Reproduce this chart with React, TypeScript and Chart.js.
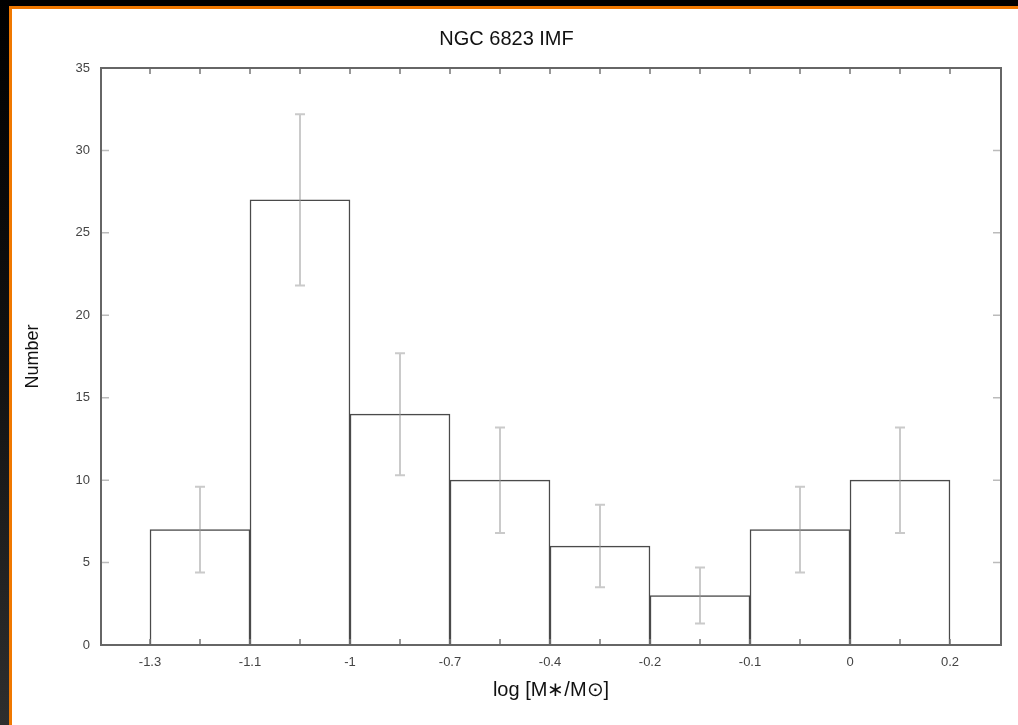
import React, { useEffect, useRef } from 'react';
import { Chart, registerables } from 'chart.js';

Chart.register(...registerables);

const chartTitle = 'NGC 6823 IMF';
const xAxisTitle = 'log [M∗/M⊙]';
const yAxisTitle = 'Number';
const binEdgeLabels = ['-1.3', '-1.1', '-1', '-0.7', '-0.4', '-0.2', '-0.1', '0', '0.2'];
const binCounts = [7, 27, 14, 10, 6, 3, 7, 10];
const binErrors = [2.6, 5.2, 3.7, 3.2, 2.5, 1.7, 2.6, 3.2];
const yMin = 0;
const yMax = 35;
const yStep = 5;

const FONT = "'Liberation Sans', Arial, Helvetica, sans-serif";

const errorBarPlugin = {
  id: 'errorBars',
  afterDatasetsDraw(chart: any) {
    const { ctx, scales } = chart;
    const x = scales.x;
    const y = scales.y;
    ctx.save();
    ctx.strokeStyle = 'rgba(150,150,150,0.5)';
    ctx.lineWidth = 2;
    binCounts.forEach((c, i) => {
      const px = x.getPixelForValue(i + 0.5);
      const top = y.getPixelForValue(c + binErrors[i]);
      const bot = y.getPixelForValue(c - binErrors[i]);
      ctx.beginPath();
      ctx.moveTo(px, top);
      ctx.lineTo(px, bot);
      ctx.moveTo(px - 5, top);
      ctx.lineTo(px + 5, top);
      ctx.moveTo(px - 5, bot);
      ctx.lineTo(px + 5, bot);
      ctx.stroke();
    });
    ctx.restore();
  },
};

const frameTicksPlugin = {
  id: 'frameTicks',
  afterDraw(chart: any) {
    const { ctx, chartArea, scales } = chart;
    const { left, right, top, bottom } = chartArea;
    const x = scales.x;
    const y = scales.y;
    ctx.save();
    ctx.strokeStyle = '#777';
    ctx.lineWidth = 1.5;
    for (let i = 0; i < binEdgeLabels.length; i++) {
      for (const v of [i, i + 0.5]) {
        if (v > binEdgeLabels.length - 1) continue;
        const px = x.getPixelForValue(v);
        ctx.beginPath();
        ctx.moveTo(px, bottom);
        ctx.lineTo(px, bottom - 6);
        ctx.moveTo(px, top);
        ctx.lineTo(px, top + 6);
        ctx.stroke();
      }
    }
    ctx.strokeStyle = '#bbb';
    for (let v = yMin + yStep; v < yMax; v += yStep) {
      const py = y.getPixelForValue(v);
      ctx.beginPath();
      ctx.moveTo(left, py);
      ctx.lineTo(left + 8, py);
      ctx.moveTo(right, py);
      ctx.lineTo(right - 8, py);
      ctx.stroke();
    }
    ctx.strokeStyle = '#666';
    ctx.lineWidth = 2;
    ctx.strokeRect(left, top, right - left, bottom - top);
    ctx.restore();
  },
};

export default function App() {
  const canvasRef = useRef<HTMLCanvasElement | null>(null);

  useEffect(() => {
    if (!canvasRef.current) return;
    const chart = new Chart(canvasRef.current, {
      type: 'bar',
      data: {
        datasets: [
          {
            data: binCounts.map((c, i) => ({ x: i + 0.5, y: c })),
            backgroundColor: '#ffffff',
            borderColor: '#4a4a4a',
            borderWidth: 1.5,
            borderSkipped: 'bottom',
            barPercentage: 1,
            categoryPercentage: 1,
          },
        ],
      },
      options: {
        animation: false,
        responsive: false,
        devicePixelRatio: 1,
        layout: { padding: { left: 0, right: 17, top: 0, bottom: 0 } },
        plugins: {
          legend: { display: false },
          tooltip: { enabled: false },
          title: {
            display: true,
            text: chartTitle,
            color: '#111',
            font: { family: FONT, size: 20, weight: 'normal' },
            padding: { top: 18, bottom: 17 },
          },
        },
        scales: {
          x: {
            type: 'linear',
            offset: false,
            min: -0.49,
            max: binEdgeLabels.length - 1 + 0.51,
            grid: { display: false, drawTicks: false, offset: false },
            border: { display: false },
            afterBuildTicks: (scale: any) => {
              scale.ticks = binEdgeLabels.map((_, i) => ({ value: i }));
            },
            afterFit: (scale: any) => {
              scale.height = 80;
            },
            ticks: {
              autoSkip: false,
              maxRotation: 0,
              minRotation: 0,
              padding: 10,
              color: '#444',
              font: { family: FONT, size: 13 },
              callback: (_v: any, index: number) => binEdgeLabels[index] ?? '',
            },
            title: {
              display: true,
              text: xAxisTitle,
              color: '#111',
              font: { family: FONT, size: 20 },
              padding: { top: 0, bottom: 23 },
            },
          },
          y: {
            type: 'linear',
            min: yMin,
            max: yMax,
            grid: { display: false, drawTicks: false },
            border: { display: false },
            afterFit: (scale: any) => {
              scale.width = 89;
            },
            ticks: {
              stepSize: yStep,
              padding: 11,
              color: '#444',
              font: { family: FONT, size: 13 },
            },
            title: {
              display: true,
              text: yAxisTitle,
              color: '#111',
              font: { family: FONT, size: 18 },
              padding: { top: 10, bottom: 0 },
            },
          },
        },
      },
      plugins: [errorBarPlugin, frameTicksPlugin],
    } as any);
    return () => chart.destroy();
  }, []);

  return (
    <div
      style={{
        position: 'absolute',
        left: 0,
        top: 0,
        width: 1018,
        height: 725,
        background: '#ffffff',
        overflow: 'hidden',
      }}
    >
      <div style={{ position: 'absolute', left: 0, top: 0, width: 1018, height: 6, background: '#000' }} />
      <div
        style={{
          position: 'absolute',
          left: 0,
          top: 0,
          width: 9,
          height: 725,
          background: 'linear-gradient(to bottom, #000 0%, #111 50%, #2e2e2e 100%)',
        }}
      />
      <div style={{ position: 'absolute', left: 9, top: 6, width: 1009, height: 3, background: '#f07800' }} />
      <div style={{ position: 'absolute', left: 9, top: 6, width: 3, height: 719, background: '#f07800' }} />
      <canvas
        ref={canvasRef}
        width={1006}
        height={716}
        style={{ position: 'absolute', left: 12, top: 9, width: 1006, height: 716 }}
      />
    </div>
  );
}
